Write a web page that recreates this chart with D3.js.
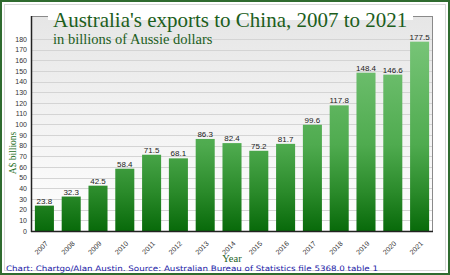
<!DOCTYPE html>
<html><head><meta charset="utf-8">
<script src="https://cdn.jsdelivr.net/npm/d3@7"></script>
<style>html,body{margin:0;padding:0;background:#fff;}svg{display:block;}</style>
</head><body>
<script>
const years = ["2007","2008","2009","2010","2011","2012","2013","2014","2015","2016","2017","2018","2019","2020","2021"];
const values = [23.8,32.3,42.5,58.4,71.5,68.1,86.3,82.4,75.2,81.7,99.6,117.8,148.4,146.6,177.5];
const yTicks = [0,10,20,30,40,50,60,70,80,90,100,110,120,130,140,150,160,170,180];
const title = "Australia's exports to China, 2007 to 2021";
const subtitle = "in billions of Aussie dollars";
const yTitle = "A$ billions";
const xTitle = "Year";
const source = "Chart: Chartgo/Alan Austin. Source: Australian Bureau of Statistics file 5368.0 table 1";

const W = 450, H = 275;
const svg = d3.select("body").append("svg").attr("width", W).attr("height", H);
const defs = svg.append("defs");

const plot = {l: 31, r: 433, t: 16, b: 231};
const x = d3.scaleBand().domain(years).range([plot.l, plot.r]).paddingInner(0.29).paddingOuter(0.145);
const y = d3.scaleLinear().domain([0, 180]).range([plot.b, 39]);

// gradients
const bg = defs.append("linearGradient").attr("id","bg").attr("x1",0).attr("y1",0).attr("x2",0).attr("y2",1);
bg.append("stop").attr("offset","0%").attr("stop-color","#e6e6e6");
bg.append("stop").attr("offset","100%").attr("stop-color","#ffffff");
const bar = defs.append("linearGradient").attr("id","bar").attr("gradientUnits","userSpaceOnUse")
  .attr("x1",0).attr("y1",y(180)).attr("x2",0).attr("y2",plot.b);
bar.append("stop").attr("offset","0%").attr("stop-color","#78c578");
bar.append("stop").attr("offset","55%").attr("stop-color","#4fab4f");
bar.append("stop").attr("offset","80%").attr("stop-color","#2a8a2a");
bar.append("stop").attr("offset","100%").attr("stop-color","#086a0a");

// outer border
svg.append("rect").attr("x",1).attr("y",1).attr("width",W-2).attr("height",H-2)
  .attr("fill","#fff").attr("stroke","#2f6b2f").attr("stroke-width",2);
svg.append("rect").attr("x",4.5).attr("y",4.5).attr("width",W-9).attr("height",H-9)
  .attr("fill","none").attr("stroke","#d8d8d8").attr("stroke-width",1);

// plot background
svg.append("rect").attr("x",plot.l).attr("y",plot.t).attr("width",plot.r-plot.l).attr("height",plot.b-plot.t)
  .attr("fill","url(#bg)");

// gridlines
svg.append("g").selectAll("line").data(yTicks.filter(d=>d>0)).join("line")
  .attr("x1",plot.l).attr("x2",plot.r)
  .attr("y1",d=>Math.round(y(d))+0.5).attr("y2",d=>Math.round(y(d))+0.5)
  .attr("stroke","#d4d4d4").attr("stroke-width",1);

// frame
svg.append("rect").attr("x",plot.l+0.5).attr("y",plot.t+0.5).attr("width",plot.r-plot.l-1).attr("height",plot.b-plot.t)
  .attr("fill","none").attr("stroke","#8a8a8a").attr("stroke-width",1);

// bars
svg.append("g").selectAll("rect").data(values).join("rect")
  .attr("x",(d,i)=>x(years[i])).attr("width",x.bandwidth())
  .attr("y",d=>y(d)).attr("height",d=>plot.b-y(d))
  .attr("fill","url(#bar)");

// value labels
svg.append("g").selectAll("text").data(values).join("text")
  .attr("x",(d,i)=>x(years[i])+x.bandwidth()/2).attr("y",d=>y(d)-2)
  .attr("text-anchor","middle").attr("font-family","Liberation Sans, Arial, sans-serif")
  .attr("font-size",8).attr("fill","#222").text(d=>d.toFixed(1));

// axes
const yAxis = d3.axisLeft(y).tickValues(yTicks).tickSize(0).tickPadding(4);
const gy = svg.append("g").attr("transform",`translate(${plot.l},0)`).call(yAxis);
gy.select(".domain").remove();
gy.selectAll("text").attr("font-family","Liberation Sans, Arial, sans-serif").attr("font-size",7).attr("fill","#333");
svg.append("line").attr("x1",plot.l+0.5).attr("x2",plot.l+0.5).attr("y1",plot.t).attr("y2",plot.b+1)
  .attr("stroke","#222").attr("stroke-width",1.5);
svg.append("line").attr("x1",plot.l).attr("x2",plot.r).attr("y1",plot.b+0.5).attr("y2",plot.b+0.5)
  .attr("stroke","#222").attr("stroke-width",1.5);

const xAxis = d3.axisBottom(x).tickSize(0).tickPadding(0);
const gx = svg.append("g").attr("transform",`translate(0,${plot.b})`).call(xAxis);
gx.select(".domain").remove();
gx.selectAll("text").attr("font-family","Liberation Sans, Arial, sans-serif").attr("font-size",7).attr("fill","#333")
  .attr("text-anchor","end").attr("dy",0).attr("transform","translate(4,13) rotate(-45)");

// title background
svg.append("rect").attr("x",48).attr("y",8).attr("width",365).attr("height",12).attr("fill","#fff");
svg.append("text").attr("x",53).attr("y",26.5).attr("font-family","Liberation Serif, Times New Roman, serif")
  .attr("font-size",21).attr("fill","#1c5e1c").text(title);
svg.append("text").attr("x",53).attr("y",43.5).attr("font-family","Liberation Serif, Times New Roman, serif")
  .attr("font-size",14.5).attr("fill","#1c5e1c").text(subtitle);

// axis titles
svg.append("text").attr("transform","translate(16,153) rotate(-90)").attr("text-anchor","middle")
  .attr("font-family","Liberation Serif, Times New Roman, serif").attr("font-size",9.5).attr("fill","#1c6e1c").text(yTitle);
svg.append("text").attr("x",232).attr("y",261.5).attr("text-anchor","middle")
  .attr("font-family","Liberation Serif, Times New Roman, serif").attr("font-size",10.5).attr("fill","#1c5e1c").text(xTitle);
svg.append("text").attr("x",6).attr("y",271)
  .attr("font-family","DejaVu Sans, Verdana, sans-serif").attr("font-size",7.5).attr("fill","#1a1aa6")
  .attr("textLength",372).attr("lengthAdjust","spacingAndGlyphs").text(source);
</script>
</body></html>
